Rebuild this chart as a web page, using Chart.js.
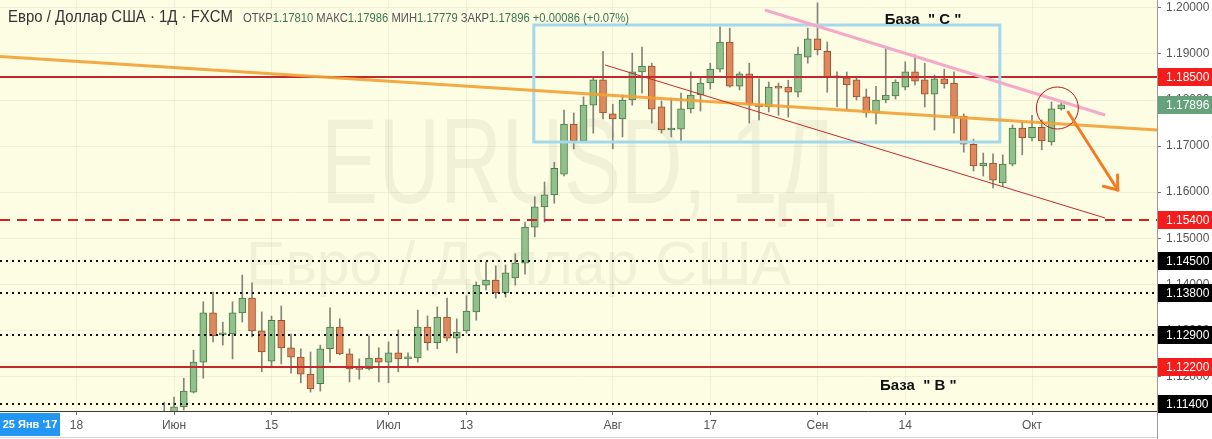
<!DOCTYPE html>
<html>
<head>
<meta charset="utf-8">
<script src="https://cdn.jsdelivr.net/npm/chart.js@4.4.0/dist/chart.umd.min.js"></script>
<style>
  html, body { margin: 0; padding: 0; background: #fff; }
  #wrap { width: 1212px; height: 439px; position: relative; }
</style>
</head>
<body>
<div id="wrap"><canvas id="chart"></canvas></div>
<script>
// daily candles, bar 0 = first June bar
const firstBar = -1;
const opens = [1.1100, 1.1115, 1.1134, 1.1166, 1.1231, 1.1338, 1.1290, 1.1292, 1.1338, 1.1370,
  1.1299, 1.1233, 1.1322, 1.1262, 1.1242, 1.1205, 1.1184, 1.1260, 1.1307, 1.1249,
  1.1218, 1.1216, 1.1240, 1.1231, 1.1251, 1.1238, 1.1240, 1.1307, 1.1273, 1.1329,
  1.1283, 1.1299, 1.1340, 1.1398, 1.1409, 1.1381, 1.1414, 1.1446, 1.1524, 1.1568,
  1.1594, 1.1639, 1.1748, 1.1711, 1.1789, 1.1844, 1.1770, 1.1759, 1.1800, 1.1861,
  1.1874, 1.1785, 1.1735, 1.1737, 1.1781, 1.1811, 1.1837, 1.1867, 1.1926, 1.1830,
  1.1857, 1.1787, 1.1785, 1.1830, 1.1828, 1.1817, 1.1893, 1.1933, 1.1906, 1.1850,
  1.1848, 1.1844, 1.1807, 1.1772, 1.1800, 1.1809, 1.1828, 1.1861, 1.1844, 1.1813,
  1.1846, 1.1837, 1.1765, 1.1704, 1.1657, 1.1663, 1.1620, 1.1661, 1.1739, 1.1718,
  1.1741, 1.1709, 1.17810];
const highs = [1.1144, 1.1155, 1.1196, 1.1257, 1.1362, 1.1383, 1.1318, 1.1362, 1.1420, 1.1403,
  1.1340, 1.1331, 1.1353, 1.1292, 1.1260, 1.1253, 1.1268, 1.1349, 1.1325, 1.1260,
  1.1238, 1.1288, 1.1262, 1.1275, 1.1301, 1.1251, 1.1344, 1.1331, 1.1351, 1.1370,
  1.1325, 1.1375, 1.1405, 1.1448, 1.1440, 1.1442, 1.1466, 1.1535, 1.1590, 1.1622,
  1.1665, 1.1778, 1.1772, 1.1807, 1.1850, 1.1906, 1.1791, 1.1811, 1.1902, 1.1915,
  1.1880, 1.1798, 1.1804, 1.1815, 1.1861, 1.1848, 1.1880, 1.1959, 1.1956, 1.1861,
  1.1880, 1.1846, 1.1839, 1.1837, 1.1843, 1.1915, 1.1956, 1.2011, 1.1926, 1.1861,
  1.1861, 1.1848, 1.1824, 1.1830, 1.1915, 1.1844, 1.1883, 1.1898, 1.1880, 1.1854,
  1.1867, 1.1861, 1.1770, 1.1715, 1.1685, 1.1683, 1.1681, 1.1746, 1.1752, 1.1767,
  1.1757, 1.1796, 1.17986];
const lows = [1.1090, 1.1105, 1.1127, 1.1164, 1.1196, 1.1275, 1.1268, 1.1238, 1.1318, 1.1286,
  1.1210, 1.1223, 1.1227, 1.1207, 1.1186, 1.1166, 1.1168, 1.1231, 1.1247, 1.1188,
  1.1194, 1.1214, 1.1188, 1.1186, 1.1210, 1.1223, 1.1231, 1.1257, 1.1260, 1.1277,
  1.1251, 1.1294, 1.1322, 1.1388, 1.1370, 1.1372, 1.1398, 1.1422, 1.1503, 1.1535,
  1.1576, 1.1635, 1.1694, 1.1709, 1.1728, 1.1759, 1.1694, 1.1720, 1.1789, 1.1815,
  1.1750, 1.1728, 1.1720, 1.1711, 1.1772, 1.1776, 1.1824, 1.1861, 1.1828, 1.1822,
  1.1750, 1.1757, 1.1774, 1.1767, 1.1763, 1.1807, 1.1880, 1.1898, 1.1817, 1.1785,
  1.1778, 1.1800, 1.1763, 1.1748, 1.1794, 1.1802, 1.1822, 1.1833, 1.1785, 1.1735,
  1.1826, 1.1728, 1.1687, 1.1646, 1.1635, 1.1609, 1.1613, 1.1657, 1.1681, 1.1711,
  1.1692, 1.1702, 1.17779];
const closes = [1.1120, 1.1134, 1.1168, 1.1231, 1.1338, 1.1288, 1.1292, 1.1338, 1.1370, 1.1299,
  1.1253, 1.1322, 1.1262, 1.1242, 1.1205, 1.1173, 1.1260, 1.1307, 1.1249, 1.1216,
  1.1215, 1.1240, 1.1231, 1.1251, 1.1238, 1.1242, 1.1307, 1.1273, 1.1329, 1.1283,
  1.1296, 1.1342, 1.1398, 1.1409, 1.1381, 1.1425, 1.1446, 1.1524, 1.1568, 1.1594,
  1.1652, 1.1748, 1.1711, 1.1789, 1.1844, 1.1772, 1.1759, 1.1800, 1.1861, 1.1874,
  1.1780, 1.1735, 1.1737, 1.1781, 1.1811, 1.1837, 1.1867, 1.1926, 1.1830, 1.1857,
  1.1791, 1.1785, 1.1828, 1.1826, 1.1817, 1.1900, 1.1933, 1.1909, 1.1850, 1.1848,
  1.1833, 1.1807, 1.1772, 1.1800, 1.1811, 1.1839, 1.1861, 1.1841, 1.1813, 1.1846,
  1.1835, 1.1765, 1.1704, 1.1657, 1.1663, 1.1626, 1.1661, 1.1739, 1.1718, 1.1741,
  1.1711, 1.1781, 1.17896];

const priceTicks = [1.12, 1.13, 1.14, 1.15, 1.16, 1.17, 1.18, 1.19, 1.20];
const timeTickIndex = [-10, 0, 10, 22, 30, 45, 55, 66, 75, 88];
const timeTickText = ['18', 'Июн', '15', 'Июл', '13', 'Авг', '17', 'Сен', '14', 'Окт'];
const viewFrom = -17.85, viewTo = 100.82;
const yMin = 1.11249, yMax = 1.20172;

const solidRedLevels = [1.185, 1.122];
const dashedRedLevels = [1.154];
const dottedLevels = [1.145, 1.138, 1.129, 1.114];

// hand drawings, as [bar, price]
const orangeTrend = [[-17.85, 1.18945], [100.82, 1.17349]];
const pinkTrend = [[60.6, 1.19955], [95.5, 1.17675]];
const redChannel = [[44.2, 1.18761], [95.5, 1.15439]];
const baseCBox = [[36.9, 1.19629], [84.7, 1.17089]];
const arrowLine = [[91.7, 1.17740], [96.8, 1.16047]];
const circleMark = [90.6, 1.17827];
const baseCText = [72.9, 1.19651];
const baseBText = [72.4, 1.11705];

const bars = opens.map((o, k) => firstBar + k);
const up = closes.map((c, k) => c >= opens[k]);
const FONT = '"Liberation Sans", Arial, sans-serif';

function px(chart, pt) {
  return [chart.scales.x.getPixelForValue(pt[0]), chart.scales.y.getPixelForValue(pt[1])];
}
function line(ctx, a, b) {
  ctx.beginPath(); ctx.moveTo(a[0], a[1]); ctx.lineTo(b[0], b[1]); ctx.stroke();
}
function stretched(ctx, text, cx, baseline, cap, width) {
  ctx.font = (cap / 0.72) + 'px ' + FONT;
  const w = ctx.measureText(text).width;
  ctx.save();
  ctx.translate(cx - width / 2, baseline);
  ctx.scale(width / w, 1);
  ctx.fillText(text, 0, 0);
  ctx.restore();
}
function fitText(ctx, text, x, y, width) {
  const w = ctx.measureText(text).width;
  ctx.save();
  ctx.translate(x, y);
  ctx.scale(width / w, 1);
  ctx.fillText(text, 0, 0);
  ctx.restore();
}
function noPad(s) {
  s.paddingTop = 0; s.paddingBottom = 0; s.paddingLeft = 0; s.paddingRight = 0;
}

const decor = {
  id: 'decor',
  beforeDraw(chart) {
    const { ctx, chartArea: a } = chart;
    ctx.save();
    ctx.fillStyle = '#fff';
    ctx.fillRect(0, 0, chart.width, chart.height);
    ctx.fillStyle = '#fdfde4';
    ctx.fillRect(a.left, a.top, a.right - a.left, a.bottom - a.top);
    ctx.restore();
  },
  beforeDatasetsDraw(chart) {
    const { ctx, chartArea: a } = chart;
    const cx = (a.left + a.right) / 2;
    ctx.save();
    ctx.fillStyle = 'rgba(140,140,110,0.10)';
    stretched(ctx, 'EURUSD, 1Д', cx, 203, 87, 515);
    stretched(ctx, 'Евро / Доллар США', cx - 60, 284, 44, 545);
    ctx.restore();
  },
  afterDatasetsDraw(chart) {
    const { ctx, chartArea: a } = chart;
    const ys = chart.scales.y;
    ctx.save();
    ctx.beginPath(); ctx.rect(a.left, a.top, a.right - a.left, a.bottom - a.top); ctx.clip();
    // level lines
    ctx.lineWidth = 2;
    ctx.strokeStyle = '#c3282c';
    solidRedLevels.forEach(p => { const y = Math.round(ys.getPixelForValue(p)); line(ctx, [a.left, y], [a.right, y]); });
    ctx.setLineDash([10, 7]);
    ctx.strokeStyle = '#d32020';
    dashedRedLevels.forEach(p => { const y = Math.round(ys.getPixelForValue(p)); line(ctx, [a.left, y], [a.right, y]); });
    ctx.setLineDash([2, 4]);
    ctx.strokeStyle = '#111';
    dottedLevels.forEach(p => { const y = Math.round(ys.getPixelForValue(p)); line(ctx, [a.left, y], [a.right, y]); });
    ctx.setLineDash([]);
    // box
    const b0 = px(chart, baseCBox[0]), b1 = px(chart, baseCBox[1]);
    ctx.strokeStyle = '#a5d8ea'; ctx.lineWidth = 3;
    ctx.strokeRect(b0[0], b0[1], b1[0] - b0[0], b1[1] - b0[1]);
    // trend lines
    ctx.strokeStyle = 'rgba(242,160,50,0.9)'; ctx.lineWidth = 3;
    line(ctx, px(chart, orangeTrend[0]), px(chart, orangeTrend[1]));
    ctx.strokeStyle = '#f5a9c8'; ctx.lineWidth = 3;
    line(ctx, px(chart, pinkTrend[0]), px(chart, pinkTrend[1]));
    ctx.strokeStyle = '#c62a2a'; ctx.lineWidth = 1;
    line(ctx, px(chart, redChannel[0]), px(chart, redChannel[1]));
    // circle
    const c = px(chart, circleMark);
    ctx.strokeStyle = '#b71c1c'; ctx.lineWidth = 1;
    ctx.beginPath(); ctx.arc(c[0], c[1], 21, 0, Math.PI * 2); ctx.stroke();
    // arrow
    const s = px(chart, arrowLine[0]), e = px(chart, arrowLine[1]);
    ctx.strokeStyle = '#f07d26'; ctx.lineWidth = 3; ctx.lineCap = 'round';
    line(ctx, s, e);
    const ang = Math.atan2(e[1] - s[1], e[0] - s[0]) + Math.PI;
    [-0.75, 0.55].forEach(d => line(ctx, e, [e[0] + 15 * Math.cos(ang + d), e[1] + 15 * Math.sin(ang + d)]));
    // base labels
    ctx.fillStyle = '#111';
    ctx.font = 'bold 15px ' + FONT;
    ctx.textAlign = 'left';
    const tc = px(chart, baseCText), tb = px(chart, baseBText);
    ctx.fillText('База  " С "', tc[0], tc[1]);
    ctx.fillText('База  " В "', tb[0], tb[1]);
    ctx.restore();
  },
  afterDraw(chart) {
    const { ctx, chartArea: a } = chart;
    const ys = chart.scales.y;
    ctx.save();
    // price badges
    const badges = [];
    solidRedLevels.concat(dashedRedLevels).forEach(p => badges.push([p, '#f51c1c']));
    dottedLevels.forEach(p => badges.push([p, '#000']));
    badges.push([closes[closes.length - 1], '#65a27b']);
    ctx.font = '12px ' + FONT;
    ctx.textBaseline = 'middle';
    ctx.textAlign = 'left';
    badges.forEach(([p, col]) => {
      const y = Math.round(ys.getPixelForValue(p));
      ctx.fillStyle = col;
      ctx.fillRect(a.right + 1, y - 9, chart.width - a.right - 1, 18);
      ctx.fillStyle = '#fff';
      ctx.fillText(p.toFixed(5), a.right + 9, y + 1);
    });
    // crosshair date label
    ctx.fillStyle = '#2196f3';
    ctx.fillRect(0, a.bottom + 2, 60, 23);
    ctx.fillStyle = '#fff';
    ctx.font = 'bold 11px ' + FONT;
    ctx.textAlign = 'center';
    ctx.fillText("25 Янв '17", 30, a.bottom + 14);
    // bottom frame
    ctx.strokeStyle = '#d6d6d6'; ctx.lineWidth = 1;
    line(ctx, [0, chart.height - 1.5], [a.right, chart.height - 1.5]);
    ctx.strokeStyle = '#9a9a9a';
    line(ctx, [a.right + 0.5, a.bottom], [a.right + 0.5, chart.height]);
    // title and OHLC
    ctx.textBaseline = 'alphabetic';
    ctx.textAlign = 'left';
    ctx.fillStyle = '#333';
    ctx.font = '16px ' + FONT;
    fitText(ctx, 'Евро / Доллар США · 1Д · FXCM', 8, 22, 225);
    const last = closes.length - 1;
    const chg = closes[last] - closes[last - 1];
    const parts = [['ОТКР', 0], [opens[last].toFixed(5), 1], [' МАКС', 0], [highs[last].toFixed(5), 1],
      [' МИН', 0], [lows[last].toFixed(5), 1], [' ЗАКР', 0], [closes[last].toFixed(5), 1],
      [' ' + (chg >= 0 ? '+' : '') + chg.toFixed(5) + ' (' + (chg >= 0 ? '+' : '') + (chg / closes[last - 1] * 100).toFixed(2) + '%)', 1]];
    ctx.font = '13px ' + FONT;
    const total = parts.reduce((w, p) => w + ctx.measureText(p[0]).width, 0);
    const k = 386 / total;
    ctx.translate(243, 22);
    ctx.scale(k, 1);
    let x = 0;
    parts.forEach(([t, v]) => {
      ctx.fillStyle = v ? '#3b7650' : '#555';
      ctx.fillText(t, x, 0);
      x += ctx.measureText(t).width;
    });
    ctx.restore();
  }
};

new Chart(document.getElementById('chart'), {
  type: 'bar',
  data: {
    datasets: [
      {
        label: 'wick',
        data: bars.map((x, k) => ({ x: x, y: [lows[k], highs[k]] })),
        backgroundColor: '#828577',
        barThickness: 1,
        grouped: false,
        order: 2,
        clip: 0
      },
      {
        label: 'body',
        data: bars.map((x, k) => ({ x: x, y: [opens[k], closes[k]] })),
        backgroundColor: up.map(u => u ? '#90c08b' : '#e0875c'),
        borderColor: up.map(u => u ? '#4b7a4a' : '#93502f'),
        borderWidth: 1,
        borderSkipped: false,
        barThickness: 7,
        minBarLength: 2,
        grouped: false,
        order: 1,
        clip: 0
      }
    ]
  },
  options: {
    responsive: true,
    maintainAspectRatio: false,
    animation: false,
    layout: { padding: 0 },
    plugins: { legend: { display: false }, tooltip: { enabled: false } },
    scales: {
      x: {
        type: 'linear',
        min: viewFrom,
        max: viewTo,
        offset: false,
        grid: { offset: false, color: 'rgba(0,0,0,0.05)', tickColor: '#777', tickLength: 4 },
        border: { color: '#3a3a3a' },
        afterBuildTicks: s => { s.ticks = timeTickIndex.map(v => ({ value: v })); },
        afterFit: s => { s.height = 28; noPad(s); },
        ticks: {
          autoSkip: false, maxRotation: 0, padding: 3,
          color: '#555', font: { family: FONT, size: 12 },
          callback: (v, i) => timeTickText[i]
        }
      },
      y: {
        position: 'right',
        min: yMin,
        max: yMax,
        grid: { color: 'rgba(0,0,0,0.05)', tickColor: '#777', tickLength: 4 },
        border: { color: '#9a9a9a' },
        afterBuildTicks: s => { s.ticks = priceTicks.map(v => ({ value: v })); },
        afterFit: s => { s.width = 55; noPad(s); },
        ticks: {
          padding: 5, color: '#555', font: { family: FONT, size: 12 },
          callback: v => v.toFixed(5)
        }
      }
    }
  },
  plugins: [decor]
});
</script>
</body>
</html>
